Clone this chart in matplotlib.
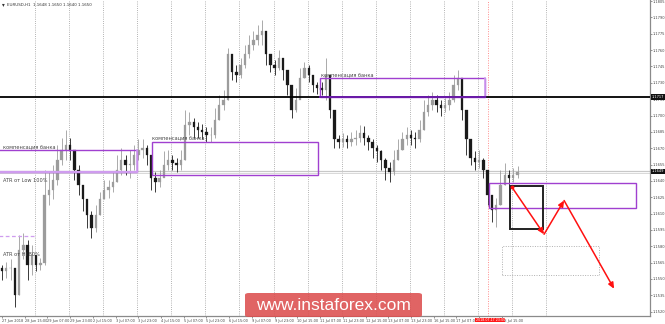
import matplotlib
matplotlib.use("Agg")
import matplotlib.pyplot as plt
from matplotlib.patches import Rectangle, FancyBboxPatch
import matplotlib.transforms as mtransforms

# ---------------- data (EURUSD, 3-hour aggregated bars) -------------
first_open = 1.1560
closes = [1.1557, 1.1560, 1.1560, 1.1535, 1.1577, 1.1581, 1.1563, 1.1572, 1.1563, 1.1565,
          1.1627, 1.1632, 1.1641, 1.1659, 1.1668, 1.1673, 1.1668, 1.1650, 1.1636, 1.1623,
          1.1609, 1.1597, 1.1609, 1.1623, 1.1632, 1.1634, 1.1639, 1.1650, 1.1659, 1.1655,
          1.1655, 1.1664, 1.1668, 1.1670, 1.1664, 1.1643, 1.1639, 1.1643, 1.1655, 1.1659,
          1.1656, 1.1655, 1.1659, 1.1691, 1.1694, 1.1689, 1.1687, 1.1685, 1.1682, 1.1682,
          1.1696, 1.1710, 1.1714, 1.1756, 1.1740, 1.1737, 1.1746, 1.1756, 1.1765, 1.1769,
          1.1774, 1.1778, 1.1756, 1.1746, 1.1744, 1.1753, 1.1742, 1.1728, 1.1705, 1.1714,
          1.1734, 1.1744, 1.1737, 1.1728, 1.1725, 1.1723, 1.1737, 1.1705, 1.1678, 1.1676,
          1.1678, 1.1676, 1.1678, 1.1679, 1.1684, 1.1679, 1.1676, 1.1670, 1.1667, 1.1659,
          1.1652, 1.1648, 1.1659, 1.1668, 1.1678, 1.1682, 1.1679, 1.1678, 1.1687, 1.1703,
          1.1710, 1.1714, 1.1710, 1.1707, 1.1710, 1.1714, 1.1728, 1.1734, 1.1705, 1.1678,
          1.1661, 1.1657, 1.1659, 1.1650, 1.1627, 1.1613, 1.1618, 1.1636, 1.1645, 1.1643,
          1.1645, 1.1648]
highs = [1.1563, 1.1566, 1.1568, 1.1558, 1.1590, 1.1592, 1.1586, 1.1581, 1.1569, 1.1569,
         1.1650, 1.1648, 1.1655, 1.1673, 1.1679, 1.1687, 1.1679, 1.1668, 1.1655, 1.1636,
         1.1623, 1.1612, 1.1618, 1.1630, 1.1641, 1.1641, 1.1648, 1.1664, 1.1670, 1.1664,
         1.1668, 1.1673, 1.1678, 1.1678, 1.1673, 1.1664, 1.1648, 1.1650, 1.1667, 1.1668,
         1.1664, 1.1661, 1.1668, 1.1705, 1.1703, 1.1698, 1.1694, 1.1692, 1.1689, 1.1689,
         1.1707, 1.1719, 1.1723, 1.1762, 1.1756, 1.1746, 1.1753, 1.1765, 1.1774, 1.1778,
         1.1783, 1.1788, 1.1769, 1.1756, 1.1751, 1.1760, 1.1751, 1.1742, 1.1723, 1.1725,
         1.1744, 1.1749, 1.1746, 1.1737, 1.1731, 1.1731, 1.1753, 1.1719, 1.1705, 1.1682,
         1.1684, 1.1682, 1.1685, 1.1687, 1.1691, 1.1690, 1.1682, 1.1678, 1.1673, 1.1668,
         1.1661, 1.1657, 1.1668, 1.1678, 1.1685, 1.1689, 1.1687, 1.1685, 1.1696, 1.1714,
         1.1719, 1.1722, 1.1719, 1.1714, 1.1716, 1.1722, 1.1737, 1.1742, 1.1733, 1.1705,
         1.1670, 1.1667, 1.1668, 1.1661, 1.1650, 1.1627, 1.1624, 1.1650, 1.1656, 1.1650,
         1.1652, 1.1654]
lows = [1.1549, 1.1551, 1.1549, 1.1524, 1.1535, 1.1568, 1.1549, 1.1554, 1.1557, 1.1558,
        1.1563, 1.1618, 1.1623, 1.1636, 1.1655, 1.1659, 1.1659, 1.1641, 1.1627, 1.1612,
        1.1597, 1.1588, 1.1593, 1.1609, 1.1623, 1.1624, 1.1630, 1.1639, 1.1645, 1.1645,
        1.1643, 1.1650, 1.1659, 1.1661, 1.1655, 1.1632, 1.1630, 1.1634, 1.1645, 1.1650,
        1.1650, 1.1648, 1.1650, 1.1659, 1.1682, 1.1679, 1.1679, 1.1678, 1.1676, 1.1676,
        1.1679, 1.1696, 1.1705, 1.1714, 1.1733, 1.1731, 1.1734, 1.1744, 1.1753, 1.1760,
        1.1765, 1.1765, 1.1746, 1.1740, 1.1737, 1.1742, 1.1733, 1.1719, 1.1698, 1.1703,
        1.1719, 1.1734, 1.1731, 1.1722, 1.1720, 1.1719, 1.1714, 1.1698, 1.1670, 1.1670,
        1.1671, 1.1670, 1.1672, 1.1673, 1.1676, 1.1673, 1.1668, 1.1661, 1.1657, 1.1650,
        1.1641, 1.1639, 1.1645, 1.1659, 1.1668, 1.1673, 1.1673, 1.1670, 1.1676, 1.1687,
        1.1700, 1.1705, 1.1703, 1.1700, 1.1703, 1.1705, 1.1712, 1.1723, 1.1696, 1.1664,
        1.1655, 1.1650, 1.1652, 1.1643, 1.1618, 1.1602, 1.1598, 1.1618, 1.1636, 1.1636,
        1.1639, 1.1643]
bar_hours = 3  # each drawn bar covers 3 hourly bars

price_tick_values = [1.1805, 1.1790, 1.1775, 1.1760, 1.1745, 1.1730, 1.1715, 1.1700, 1.1685,
                     1.1670, 1.1655, 1.1640, 1.1625, 1.1610, 1.1595, 1.1580, 1.1565, 1.1550,
                     1.1535, 1.1520]
time_labels = ["27 Jun 2018", "28 Jun 15:00", "29 Jun 07:00", "29 Jun 23:00", "2 Jul 15:00",
               "3 Jul 07:00", "3 Jul 23:00", "4 Jul 15:00", "5 Jul 07:00", "5 Jul 23:00",
               "6 Jul 15:00", "9 Jul 07:00", "9 Jul 23:00", "10 Jul 15:00", "11 Jul 07:00",
               "11 Jul 23:00", "12 Jul 15:00", "13 Jul 07:00", "13 Jul 23:00", "16 Jul 15:00",
               "17 Jul 07:00", "", "18 Jul 15:00"]
time_label_step = 16  # hours between labels
marker_label = "2018.07.17 23:00"
marker_hour = 342.3

level_black = 1.1717
bid_price = 1.1649
ask_price = 1.1647

# zones: (start hour, end hour, low, high)
zone_A = (-3, 95.1, 1.1648, 1.1668)
zone_B = (105.6, 222.5, 1.1645, 1.1676)
zone_C = (224.0, 340.0, 1.1717, 1.1734)
zone_D = (343.0, 446.5, 1.1615, 1.1638)
box_E = (357.7, 381.0, 1.1596, 1.1635)
box_F = (352.0, 420.4, 1.1554, 1.1580)
atr_line = (-3, 23.2, 1.1589)
path_hours = [359.2, 381.7, 395.8, 431.0]
path_prices = [1.1634, 1.1591, 1.1622, 1.1541]

# ---------------- figure -------------------------------------------------------------
W, H = 665, 324
fig = plt.figure(figsize=(W / 100, H / 100), dpi=100)
plot_right = 650 / W
plot_bottom = 8 / H
ax = fig.add_axes([0, plot_bottom, plot_right, 1 - plot_bottom])
ax.set_xlim(-1.41, 456.3)
ax.set_ylim(1.1516, 1.1806)

# grid (daily, dotted)
for n in range(16):
    ax.axvline(23.2 + 24 * n, color="#9a9a9a", lw=0.6, ls=(0, (1, 1.6)), zorder=0)

# marker vertical line
ax.axvline(marker_hour, color="#ff8c8c", lw=0.7, ls=(0, (1, 1.5)), zorder=0)

# bid/ask lines
ax.axhline(bid_price, color="#c8c8c8", lw=0.9, zorder=1)
ax.axhline(ask_price, color="#d8d8d8", lw=0.7, zorder=1)

# candles
opens = [first_open] + closes[:-1]
for k, (o, h, l, c) in enumerate(zip(opens, highs, lows, closes)):
    x = k * bar_hours
    col = "#9c9c9c" if c >= o else "#1a1a1a"
    ax.vlines(x, l, h, color=col, lw=0.6, zorder=3)
    body = c - o if abs(c - o) > 0.00005 else 0.00005
    ax.bar(x, body, bottom=o, width=1.7, color=col, edgecolor=col, lw=0.2, zorder=3)

# black horizontal level
ax.axhline(level_black, color="black", lw=1.3, zorder=4)

purple = "#a040d0"
light_purple = "#cf9cef"

def zone(z, lw=1.0, bottom_color=None, right_color=None):
    x0, x1, lo, hi = z
    ax.add_patch(Rectangle((x0, lo), x1 - x0, hi - lo, fill=False, edgecolor=purple,
                           lw=lw, zorder=5))
    if bottom_color:
        ax.plot([x0, x1], [lo, lo], color=bottom_color, lw=1.6, zorder=5)
    if right_color:
        ax.plot([x1, x1], [lo, hi], color=right_color, lw=1.2, zorder=5)

zone(zone_A, bottom_color=light_purple, right_color=light_purple)
zone(zone_B)
zone(zone_C, right_color=light_purple)
ax.plot([zone_C[0], zone_C[1]], [zone_C[2], zone_C[2]], color="#6a1aa8", lw=1.4, zorder=6)
zone(zone_D)

# ATR dashed line on the left
ax.plot([atr_line[0], atr_line[1]], [atr_line[2], atr_line[2]], color=light_purple,
        lw=0.9, ls=(0, (3, 2)), zorder=5)

# black box
x0, x1, lo, hi = box_E
ax.add_patch(Rectangle((x0, lo), x1 - x0, hi - lo, fill=False, edgecolor="#222222",
                       lw=1.4, zorder=6))
# dotted box
x0, x1, lo, hi = box_F
ax.add_patch(Rectangle((x0, lo), x1 - x0, hi - lo, fill=False, edgecolor="#b0b0b0",
                       lw=0.7, ls=(0, (1, 1.5)), zorder=5))

# red zigzag arrows
for i in range(len(path_hours) - 1):
    ax.annotate("", xy=(path_hours[i + 1], path_prices[i + 1]),
                xytext=(path_hours[i], path_prices[i]),
                arrowprops=dict(arrowstyle="-|>,head_length=0.35,head_width=0.16",
                                color="#ff1010", lw=1.1, shrinkA=0, shrinkB=0), zorder=7)
ax.plot(path_hours[:1], path_prices[:1], "o", color="#ff1010", ms=1.8, zorder=7)

# annotation texts
tf = dict(fontsize=3.6, color="#444444", zorder=8)
ax.text(0.5, zone_A[3] + 0.00005, "компенсация банка", va="bottom", ha="left", **tf)
ax.text(zone_B[0] + 0.3, zone_B[3] + 0.00005, "компенсация банка", va="bottom", ha="left", **tf)
ax.text(zone_C[0] + 0.5, zone_C[3] + 0.00005, "компенсация банка", va="bottom", ha="left", **tf)
ax.text(0.5, 1.1640, "ATR от Low 100%", va="center", ha="left", **tf)
ax.text(0.5, 1.1572, "ATR от Hi 80%", va="center", ha="left", **tf)

# header
fig.text(2 / W, 1 - 5 / H, "▾", fontsize=4, color="#333333", va="center", ha="left")
fig.text(7 / W, 1 - 5 / H, "EURUSD,H1  1.1648 1.1650 1.1640 1.1650", fontsize=2.9,
         color="#333333", va="center", ha="left")

# axes styling
for s in ["left", "top"]:
    ax.spines[s].set_visible(False)
ax.spines["right"].set_color("#8a8a8a")
ax.spines["bottom"].set_color("#8a8a8a")
ax.spines["right"].set_linewidth(0.9)
ax.spines["bottom"].set_linewidth(0.9)
ax.yaxis.tick_right()
ax.set_yticks(price_tick_values)
ax.set_yticklabels([f"{v:.4f}" for v in price_tick_values], fontsize=2.6, color="#444444")
ax.tick_params(axis="y", length=1.2, width=0.5, pad=0.6, colors="#666666", labelcolor="#444444")
xt = [time_label_step * j for j in range(len(time_labels))]
ax.set_xticks(xt)
ax.set_xticklabels(time_labels, fontsize=2.5, color="#444444", ha="left")
ax.tick_params(axis="x", length=1.2, width=0.5, pad=0.8, colors="#666666", labelcolor="#444444")

# right-side highlighted price labels
trans = mtransforms.blended_transform_factory(ax.transAxes, ax.transData)
for p in [level_black, bid_price]:
    ax.text(1.003, p, f"{p:.4f}", transform=trans, fontsize=2.6, color="white",
            va="center", ha="left", zorder=10, clip_on=False,
            bbox=dict(boxstyle="square,pad=0.15", fc="#111111", ec="none"))

# red marker label on time axis
trans_x = mtransforms.blended_transform_factory(ax.transData, fig.transFigure)
ax.text(marker_hour + 1.5, 4 / H, marker_label, transform=trans_x, fontsize=2.3, color="white",
        va="center", ha="center", zorder=10, clip_on=False,
        bbox=dict(boxstyle="square,pad=0.15", fc="#ff1a1a", ec="none"))

# watermark
wm = FancyBboxPatch((245 / W, 7 / H), 177 / W, 24 / H, transform=fig.transFigure,
                    boxstyle="round,pad=0,rounding_size=0.006", fc="#dc4f4f", ec="none",
                    alpha=0.88, zorder=20)
fig.patches.append(wm)
fig.text(333.5 / W, 19 / H, "www.instaforex.com", fontsize=12.5, color="white",
         family="Liberation Sans", ha="center", va="center", zorder=21)

fig.savefig("out.png", dpi=100)
